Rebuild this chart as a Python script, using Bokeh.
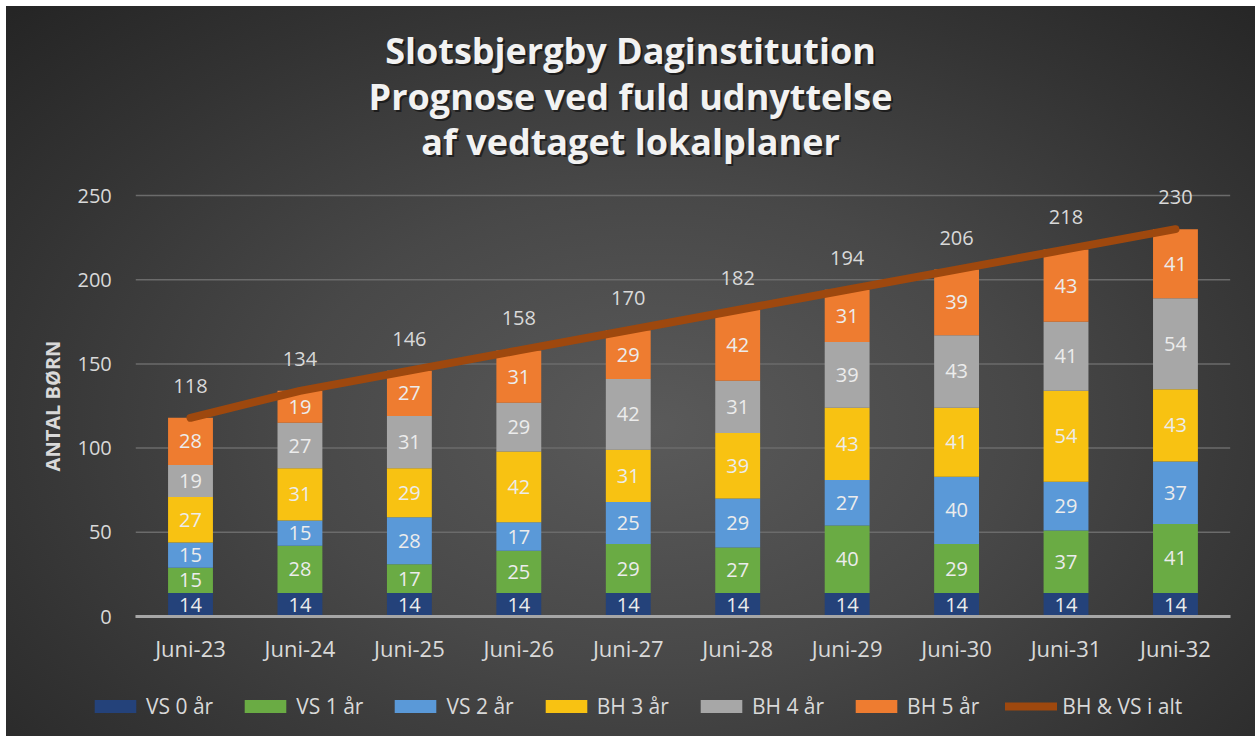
from bokeh.plotting import figure
from bokeh.models import ColumnDataSource, LabelSet, Label, Legend, FixedTicker
from bokeh.core.properties import value
from bokeh.embed import file_html
from bokeh.resources import INLINE

categories = ["Juni-23", "Juni-24", "Juni-25", "Juni-26", "Juni-27",
              "Juni-28", "Juni-29", "Juni-30", "Juni-31", "Juni-32"]
vs0 = [14, 14, 14, 14, 14, 14, 14, 14, 14, 14]
vs1 = [15, 28, 17, 25, 29, 27, 40, 29, 37, 41]
vs2 = [15, 15, 28, 17, 25, 29, 27, 40, 29, 37]
bh3 = [27, 31, 29, 42, 31, 39, 43, 41, 54, 43]
bh4 = [19, 27, 31, 29, 42, 31, 39, 43, 41, 54]
bh5 = [28, 19, 27, 31, 29, 42, 31, 39, 43, 41]
total = [118, 134, 146, 158, 170, 182, 194, 206, 218, 230]
series_names = ["VS 0 år", "VS 1 år", "VS 2 år", "BH 3 år", "BH 4 år", "BH 5 år"]
line_name = "BH & VS i alt"
y_ticks = [0, 50, 100, 150, 200, 250]
title_lines = ["Slotsbjergby Daginstitution", "Prognose ved fuld udnyttelse",
               "af vedtaget lokalplaner"]

FONT = "Open Sans"
colors = ["#24427a", "#6aab44", "#5a99d8", "#f8c212", "#a7a7a7", "#ee7c30"]
keys = ["vs0", "vs1", "vs2", "bh3", "bh4", "bh5"]
series = [vs0, vs1, vs2, bh3, bh4, bh5]
n = len(categories)
xi = list(range(n))

data = {"x": xi, "total": total, "total_s": [str(t) for t in total]}
base = [0] * n
for k, s in zip(keys, series):
    data[k] = s
    data[k + "_mid"] = [b + v / 2 for b, v in zip(base, s)]
    data[k + "_s"] = [str(v) for v in s]
    base = [b + v for b, v in zip(base, s)]
src = ColumnDataSource(data)

# pixel geometry of the plotting area
W, H = 1255, 736
PX_X = 109.44          # px per category
X0_PX = 190            # px of first category centre
Y0_PX = 616            # px of value 0
PX_Y = 1.684           # px per unit
x_range = (-X0_PX / PX_X, (W - X0_PX) / PX_X)
y_range = (-(H - Y0_PX) / PX_Y, Y0_PX / PX_Y)

p = figure(x_range=x_range, y_range=y_range, width=W, height=H,
           output_backend="svg", toolbar_location=None, min_border=0)
p.background_fill_color = None
p.border_fill_color = None
p.outline_line_color = None
p.styles = {
    "background": (
        "linear-gradient(#ffffff, #ffffff) left top / 100% 6px no-repeat, "
        "linear-gradient(#ffffff, #ffffff) left top / 6px 100% no-repeat, "
        "radial-gradient(ellipse 72% 80% at 52% 58%, #5a5a5a 0%, #484848 40%, "
        "#333333 75%, #252525 100%)"
    )
}

p.xgrid.grid_line_color = None
p.ygrid.grid_line_color = None
# horizontal gridlines, limited to the category span
p.segment(x0=[-0.5] * len(y_ticks), x1=[n - 0.5] * len(y_ticks), y0=y_ticks, y1=y_ticks,
          line_color="#6b6b6b", line_width=1.5)

renderers = p.vbar_stack(keys, x="x", width=0.41, color=colors, source=src,
                         line_color=None)
ln = p.line(x="x", y="total", source=src, line_color="#9e480e", line_width=8,
            line_cap="round", line_join="round")

for k in keys:
    p.add_layout(LabelSet(x="x", y=k + "_mid", text=k + "_s", source=src,
                          text_align="center", text_baseline="middle",
                          text_color="#ececec", text_font_size="20px",
                          text_font=value(FONT)))
p.add_layout(LabelSet(x="x", y="total", text="total_s", source=src,
                      text_align="center", text_baseline="middle", y_offset=32,
                      text_color="#d9d9d9", text_font_size="20px",
                      text_font=value(FONT)))

# y axis
p.yaxis.fixed_location = -0.5
p.yaxis.bounds = (y_ticks[0], y_ticks[-1])
p.yaxis.ticker = FixedTicker(ticks=y_ticks)
p.yaxis.axis_line_color = None
p.yaxis.major_tick_line_color = None
p.yaxis.minor_tick_line_color = None
p.yaxis.major_label_standoff = 18
p.yaxis.major_label_text_color = "#d9d9d9"
p.yaxis.major_label_text_font_size = "20px"
p.yaxis.major_label_text_font = FONT
p.yaxis.axis_label = "ANTAL BØRN"
p.yaxis.axis_label_text_font = FONT
p.yaxis.axis_label_text_font_style = "bold"
p.yaxis.axis_label_text_font_size = "20px"
p.yaxis.axis_label_text_color = "#d9d9d9"
p.yaxis.axis_label_standoff = 8

# x axis
p.xaxis.fixed_location = 0
p.xaxis.bounds = (-0.5, n - 0.5)
p.xaxis.ticker = FixedTicker(ticks=xi)
p.xaxis.major_label_overrides = {i: c for i, c in zip(xi, categories)}
p.xaxis.axis_line_color = "#a6a6a6"
p.xaxis.axis_line_width = 3
p.xaxis.major_tick_line_color = None
p.xaxis.minor_tick_line_color = None
p.xaxis.major_label_standoff = 10
p.xaxis.major_label_text_color = "#d9d9d9"
p.xaxis.major_label_text_font_size = "22px"
p.xaxis.major_label_text_font = FONT

# title
title_y = [H - 50, H - 96, H - 141]
for t, ty in zip(title_lines, title_y):
    p.add_layout(Label(x=632, y=ty - 2, x_units="screen", y_units="screen", text=t,
                       text_align="center", text_baseline="middle",
                       text_font=FONT, text_font_style="bold",
                       text_font_size="36px", text_color="#000000", text_alpha=0.5))
    p.add_layout(Label(x=630, y=ty, x_units="screen", y_units="screen", text=t,
                       text_align="center", text_baseline="middle",
                       text_font=FONT, text_font_style="bold",
                       text_font_size="36px", text_color="#f2f2f2"))

items = [(nm, [r]) for nm, r in zip(series_names, renderers)] + [(line_name, [ln])]
legend = Legend(items=items, orientation="horizontal", location=(89, 16),
                background_fill_alpha=0, border_line_color=None,
                label_text_color="#d9d9d9", label_text_font_size="21px",
                label_text_font=FONT, glyph_width=52, glyph_height=16,
                label_standoff=5, spacing=26, padding=0, margin=0,
                label_height=20)
p.add_layout(legend, "center")

open("out.html", "w").write(file_html(p, INLINE))
